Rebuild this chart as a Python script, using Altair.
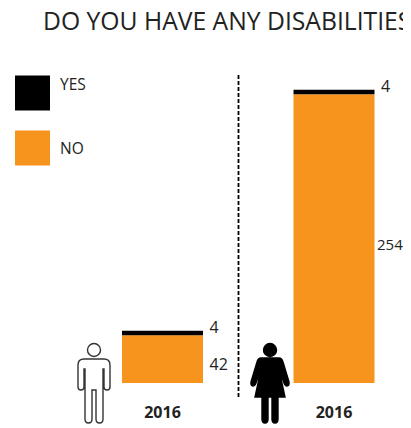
import altair as alt
import pandas as pd

groups = ["Men", "Women"]
years = ["2016", "2016"]
no_values = [42, 254]
yes_values = [4, 4]
title_text = "DO YOU HAVE ANY DISABILITIES?"
ORANGE = "#F7941E"
INK = "#222222"
FONT = "Open Sans"

MAN = ("M-6.5,-40 a6.5,6.5 0 1,0 13,0 a6.5,6.5 0 1,0 -13,0 Z "
       "M-10,-31 H10 Q16,-31 16,-25 V-3 Q16,0 13,0 Q10,0 10,-3 V-21 H9 V29 Q9,33 5.5,33 Q2,33 2,29 V0 H-2 V29 "
       "Q-2,33 -5.5,33 Q-9,33 -9,29 V-21 H-10 V-3 Q-10,0 -13,0 Q-16,0 -16,-3 V-25 Q-16,-31 -10,-31 Z")
WOMAN = ("M-6.5,-40 a6.5,6.5 0 1,0 13,0 a6.5,6.5 0 1,0 -13,0 Z "
         "M-9,-32 H9 Q12,-32 13,-28 L19,-8 Q19.5,-4 17,-4 Q15,-4 14,-7 L8.5,-23 L15,7 H8 V29 Q8,33 5,33 Q2,33 2,29 V7 "
         "H-2 V29 Q-2,33 -5,33 Q-8,33 -8,29 V7 H-15 L-8.5,-23 L-14,-7 Q-15,-4 -17,-4 Q-19.5,-4 -19,-8 L-13,-28 Q-12,-32 -9,-32 Z")

df = pd.DataFrame({"group": groups, "year": years, "no": no_values, "yes": yes_values})
df["total"] = df["no"] + df["yes"]
df["mid"] = df["no"] / 2

x = alt.X("group:N", axis=None, scale=alt.Scale(type="point", domain=groups, range=[154.5, 326], padding=0))
y = alt.Y("no:Q", axis=None, scale=alt.Scale(domain=[0, 330], nice=False, zero=True))
base = alt.Chart(df)

no_bars = base.mark_bar(size=81, color=ORANGE).encode(x=x, y=y, y2=alt.datum(0))
yes_bars = base.mark_bar(size=81, color="black").encode(
    x=x, y=alt.Y("no:Q", axis=None), y2="total:Q")

txt = dict(font=FONT, fontSize=16, color=INK, align="left", baseline="middle", dx=47)
yes_labels = base.mark_text(dy=-3, **txt).encode(x=x, y=alt.Y("total:Q", axis=None), text="yes:Q")
no_men = base.transform_filter(alt.datum.group == "Men").mark_text(dy=6, **txt).encode(
    x=x, y=alt.Y("mid:Q", axis=None), text="no:Q")
no_women = base.transform_filter(alt.datum.group == "Women").mark_text(
    font=FONT, fontSize=15, color=INK, align="left", baseline="middle", dx=43, dy=6).encode(
    x=x, y=alt.Y("mid:Q", axis=None), text="no:Q")
year_labels = base.mark_text(font=FONT, fontSize=16, fontWeight="bold", color=INK).encode(
    x=x, y=alt.value(405), text="year:N")

one = alt.Chart(pd.DataFrame({"t": [title_text]}))
title = one.mark_text(font=FONT, fontSize=24.7, color=INK, align="left", baseline="middle").encode(
    x=alt.value(35), y=alt.value(15), text="t:N")

divider = one.mark_rule(color="black", strokeWidth=1.8, strokeDash=[4, 2]).encode(
    x=alt.value(230.5), y=alt.value(67), y2=alt.value(390))

def swatch(colour, cy):
    return one.mark_square(size=1225, color=colour, opacity=1).encode(
        x=alt.value(24.5), y=alt.value(cy))

def legend_text(label, cy):
    return alt.Chart(pd.DataFrame({"t": [label]})).mark_text(
        font=FONT, fontSize=15.5, color=INK, align="left", baseline="middle").encode(
        x=alt.value(52), y=alt.value(cy), text="t:N")

def icon(path, stroke, fill, cx):
    return one.mark_point(shape=path, size=4, filled=True, fill=fill, stroke=stroke,
                          strokeWidth=1.4, opacity=1).encode(x=alt.value(cx), y=alt.value(382))

chart = alt.layer(
    title, divider,
    swatch("black", 85), swatch(ORANGE, 140),
    legend_text("YES", 77), legend_text("NO", 141),
    no_bars, yes_bars, yes_labels, no_men, no_women, year_labels,
    icon(MAN, "#333333", "white", 86), icon(WOMAN, "black", "black", 262),
).resolve_scale(x="shared", y="shared").properties(
    width=395, height=375,
    padding={"left": 0, "top": 0, "right": 0, "bottom": 41},
    autosize=alt.AutoSizeParams(type="none"),
).configure_view(stroke=None)

chart.save("out.html", embed_options={"renderer": "svg", "actions": False})
